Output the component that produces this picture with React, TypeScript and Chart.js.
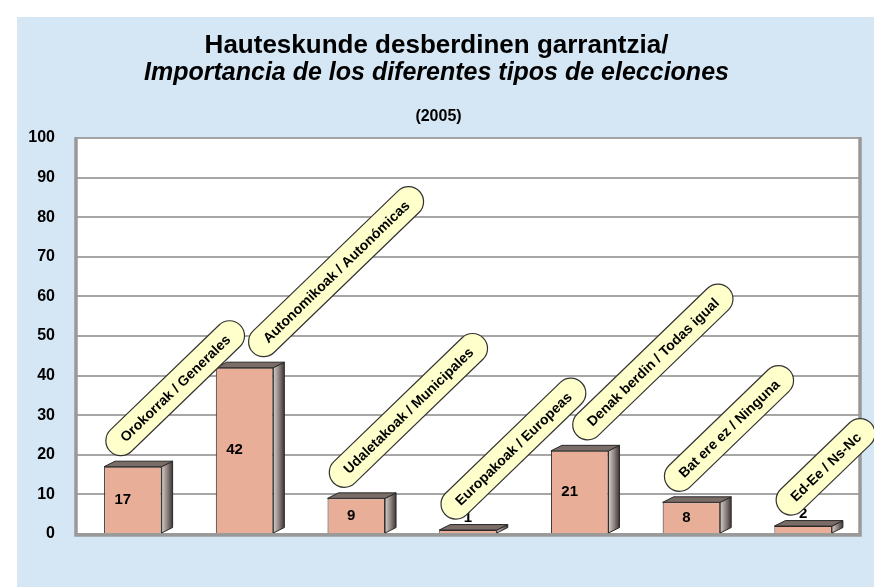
import React, { useEffect, useRef } from "react";
import { Chart, registerables } from "chart.js";

Chart.register(...registerables);

// ---- data ----
const categories: string[] = [
  "Orokorrak / Generales",
  "Autonomikoak / Autonómicas",
  "Udaletakoak / Municipales",
  "Europakoak / Europeas",
  "Denak berdin / Todas igual",
  "Bat ere ez / Ninguna",
  "Ed-Ee / Ns-Nc",
];
const values: number[] = [17, 42, 9, 1, 21, 8, 2];
const yMin = 0;
const yMax = 100;
const yStep = 10;
const titleLine1 = "Hauteskunde desberdinen garrantzia/";
const titleLine2 = "Importancia de los diferentes tipos de elecciones";
const titleYear = "(2005)";

const FONT = '"Liberation Sans", Arial, Helvetica, sans-serif';

type Pt = { x: number; y: number };
function distPtSeg(p: Pt, a: Pt, b: Pt): number {
  const vx = b.x - a.x;
  const vy = b.y - a.y;
  const len2 = vx * vx + vy * vy;
  let t = len2 ? ((p.x - a.x) * vx + (p.y - a.y) * vy) / len2 : 0;
  t = Math.max(0, Math.min(1, t));
  const cx = a.x + t * vx;
  const cy = a.y + t * vy;
  return Math.hypot(p.x - cx, p.y - cy);
}
function distSegSeg(a1: Pt, b1: Pt, a2: Pt, b2: Pt): number {
  return Math.min(
    distPtSeg(a1, a2, b2),
    distPtSeg(b1, a2, b2),
    distPtSeg(a2, a1, b1),
    distPtSeg(b2, a1, b1)
  );
}

const plotBg = {
  id: "plotBg",
  beforeDraw(chart: any) {
    const { ctx, chartArea: a } = chart;
    ctx.save();
    ctx.fillStyle = "#ffffff";
    ctx.fillRect(a.left, a.top, a.right - a.left, a.bottom - a.top);
    ctx.restore();
  },
  beforeDatasetsDraw(chart: any) {
    const { ctx, chartArea: a } = chart;
    ctx.save();
    ctx.strokeStyle = "#a3a3a3";
    ctx.lineWidth = 2;
    ctx.beginPath();
    ctx.moveTo(a.left, a.top);
    ctx.lineTo(a.right, a.top);
    ctx.stroke();
    ctx.strokeStyle = "#999999";
    ctx.lineWidth = 3.5;
    ctx.beginPath();
    ctx.moveTo(a.left - 1, a.top - 1);
    ctx.lineTo(a.left - 1, a.bottom + 1);
    ctx.lineTo(a.right + 1, a.bottom + 1);
    ctx.lineTo(a.right + 1, a.top - 1);
    ctx.stroke();
    ctx.restore();
  },
};

const bars3d = {
  id: "bars3d",
  afterDatasetsDraw(chart: any) {
    const ctx = chart.ctx;
    const meta = chart.getDatasetMeta(0);
    const dx = 11;
    const dy = 5.5;
    meta.data.forEach((bar: any, i: number) => {
      const { x, y, base, width } = bar.getProps(["x", "y", "base", "width"], true);
      const l = x - width / 2;
      const r = x + width / 2;
      ctx.save();
      ctx.lineWidth = 1;
      ctx.strokeStyle = "#2a2a2a";
      ctx.lineJoin = "round";
      // side face
      const g = ctx.createLinearGradient(r, 0, r + dx, 0);
      g.addColorStop(0, "#d6cdc9");
      g.addColorStop(0.5, "#8f8581");
      g.addColorStop(1, "#3e3636");
      ctx.beginPath();
      ctx.moveTo(r, y);
      ctx.lineTo(r + dx, y - dy);
      ctx.lineTo(r + dx, base - dy);
      ctx.lineTo(r, base);
      ctx.closePath();
      ctx.fillStyle = g;
      ctx.fill();
      ctx.stroke();
      // top face
      ctx.beginPath();
      ctx.moveTo(l, y);
      ctx.lineTo(l + dx, y - dy);
      ctx.lineTo(r + dx, y - dy);
      ctx.lineTo(r, y);
      ctx.closePath();
      ctx.fillStyle = "#7a6c66";
      ctx.fill();
      ctx.stroke();
      ctx.restore();

      // value label
      const txt = String(values[i]);
      ctx.save();
      ctx.font = `bold 15px ${FONT}`;
      ctx.fillStyle = "#000000";
      ctx.textAlign = "center";
      ctx.textBaseline = "middle";
      const tw = ctx.measureText(txt).width;
      if (base - y > 20) {
        ctx.fillText(txt, x - 0.6 * tw, (y + base) / 2);
      } else {
        ctx.fillText(txt, x, y - 12);
      }
      ctx.restore();
    });

    // category labels in rotated pills
    const ang = (44 * Math.PI) / 180;
    const rad = 15;
    let prev: { a: Pt; b: Pt } | null = null;
    meta.data.forEach((bar: any, i: number) => {
      const { x, y } = bar.getProps(["x", "y"], true);
      const label = categories[i];
      ctx.save();
      ctx.font = `bold 14px ${FONT}`;
      const tw = ctx.measureText(label).width;
      const L = tw + 4;
      const a: Pt = { x: x - 12, y: y - 26 };
      const seg = () => ({ x: a.x + L * Math.cos(ang), y: a.y - L * Math.sin(ang) });
      // avoid overlapping the previous pill
      if (prev) {
        let guard = 0;
        while (distSegSeg(a, seg(), prev.a, prev.b) < 2 * rad + 4 && guard < 80) {
          a.x += 1;
          guard++;
        }
      }
      prev = { a: { ...a }, b: seg() };
      ctx.translate(a.x, a.y);
      ctx.rotate(-ang);
      ctx.beginPath();
      ctx.arc(0, 0, rad, Math.PI / 2, (3 * Math.PI) / 2);
      ctx.lineTo(L, -rad);
      ctx.arc(L, 0, rad, -Math.PI / 2, Math.PI / 2);
      ctx.closePath();
      ctx.fillStyle = "#ffffcc";
      ctx.fill();
      ctx.lineWidth = 1.2;
      ctx.strokeStyle = "#333333";
      ctx.stroke();
      ctx.fillStyle = "#000000";
      ctx.textAlign = "center";
      ctx.textBaseline = "middle";
      ctx.fillText(label, L / 2, 1);
      ctx.restore();
    });
  },
  afterDraw(chart: any) {
    const ctx = chart.ctx;
    const cx = chart.width / 2 - 9;
    ctx.save();
    ctx.fillStyle = "#000000";
    ctx.textAlign = "center";
    ctx.textBaseline = "middle";
    ctx.font = `bold 26px ${FONT}`;
    ctx.fillText(titleLine1, cx, 29);
    ctx.font = `italic bold 25px ${FONT}`;
    ctx.fillText(titleLine2, cx, 56);
    ctx.font = `bold 16px ${FONT}`;
    ctx.fillText(titleYear, cx + 2, 100);
    ctx.restore();
  },
};

export default function App() {
  const ref = useRef<HTMLCanvasElement | null>(null);
  useEffect(() => {
    if (!ref.current) return;
    const chart = new Chart(ref.current, {
      type: "bar",
      data: {
        labels: categories,
        datasets: [
          {
            data: values,
            backgroundColor: "#e8ae98",
            borderColor: "#2a2a2a",
            borderWidth: 1,
            barPercentage: 0.515,
            categoryPercentage: 1,
          },
        ],
      },
      options: {
        animation: false,
        responsive: true,
        maintainAspectRatio: false,
        layout: { padding: { top: 121, right: 15, bottom: 53, left: 0 } },
        plugins: {
          legend: { display: false },
          title: { display: false },
          tooltip: { enabled: false },
        },
        scales: {
          x: { display: false },
          y: {
            min: yMin,
            max: yMax,
            afterFit: (s: any) => {
              s.width = 60;
            },
            ticks: {
              stepSize: yStep,
              color: "#000000",
              padding: 22,
              font: { family: FONT, size: 16, weight: "bold" },
            },
            grid: { color: "#a6a6a6", lineWidth: 2, drawTicks: false },
            border: { display: false },
          },
        },
      },
      plugins: [plotBg, bars3d],
    });
    return () => chart.destroy();
  }, []);
  return (
    <div
      style={{
        position: "fixed",
        left: 17,
        top: 17,
        width: 857,
        height: 570,
        background: "#d5e6f4",
      }}
    >
      <canvas ref={ref} />
    </div>
  );
}
